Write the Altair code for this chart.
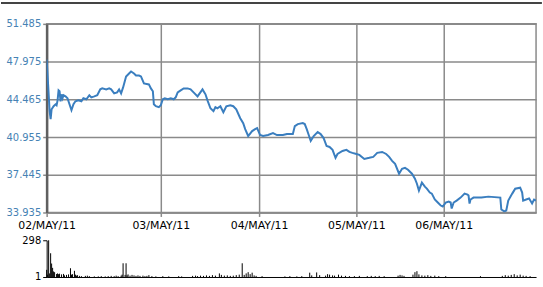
import altair as alt
import pandas as pd

# price series (session time index, price)
price_t = [0, 1, 3, 4, 5, 7, 9, 10, 11, 12, 13, 14, 15, 16, 17, 19, 21, 23, 25, 27, 29, 32, 35, 37, 40, 43, 45, 48, 51, 54, 56, 60, 63, 65, 68, 71, 73, 75, 77, 80, 83, 85, 88, 90, 93, 95, 98, 103, 105, 107, 108, 110, 113, 115, 117, 119, 122, 125, 128, 130, 132, 135, 138, 142, 145, 148, 152, 157, 160, 162, 165, 168, 170, 172, 175, 178, 181, 185, 188, 191, 195, 198, 200, 203, 207, 210, 212, 215, 218, 223, 228, 232, 238, 242, 248, 250, 253, 258, 260, 262, 264, 266, 269, 273, 276, 279, 282, 285, 288, 291, 293, 298, 302, 305, 308, 312, 315, 320, 325, 329, 333, 338, 342, 345, 348, 351, 355, 358, 361, 364, 368, 371, 373, 375, 378, 381, 383, 386, 388, 391, 394, 397, 399, 402, 405, 407, 408, 410, 413, 417, 421, 424, 425, 426, 427, 430, 438, 445, 457, 458, 461, 463, 465, 469, 472, 477, 479, 480, 483, 486, 489, 491, 493]
price_v = [48.16, 46.59, 43.36, 42.62, 43.54, 43.82, 44.00, 43.91, 44.37, 45.30, 45.21, 44.28, 44.93, 44.56, 44.84, 44.74, 44.56, 44.00, 43.45, 44.00, 44.28, 44.37, 44.28, 44.56, 44.465, 44.84, 44.65, 44.74, 44.84, 45.39, 45.48, 45.39, 45.48, 45.39, 45.02, 45.11, 45.39, 45.02, 45.57, 46.59, 46.87, 47.05, 46.87, 46.68, 46.68, 46.59, 45.94, 45.85, 45.48, 45.21, 44.00, 43.82, 43.73, 43.91, 44.465, 44.56, 44.465, 44.56, 44.465, 44.65, 45.11, 45.30, 45.48, 45.48, 45.39, 45.11, 44.74, 45.39, 44.93, 44.37, 43.63, 43.36, 43.73, 43.63, 43.82, 43.26, 43.82, 43.91, 43.82, 43.54, 42.71, 42.25, 41.69, 41.05, 41.51, 41.69, 41.79, 41.14, 41.05, 41.14, 41.32, 41.14, 41.14, 41.23, 41.23, 41.97, 42.16, 42.25, 42.16, 41.69, 41.14, 40.59, 41.05, 41.42, 41.23, 40.86, 40.12, 40.03, 39.76, 39.02, 39.38, 39.66, 39.76, 39.57, 39.48, 39.38, 39.29, 38.92, 39.02, 39.11, 39.48, 39.57, 39.38, 39.11, 38.74, 38.46, 37.54, 38.00, 38.09, 37.91, 37.54, 37.08, 36.61, 35.97, 36.71, 36.34, 36.15, 35.79, 35.69, 35.14, 34.86, 34.58, 34.49, 34.86, 34.95, 34.86, 34.30, 34.86, 35.04, 35.32, 35.69, 35.60, 35.51, 34.77, 35.14, 35.32, 35.32, 35.41, 35.32, 34.21, 34.03, 34.12, 35.04, 35.69, 36.15, 36.24, 35.79, 35.04, 35.14, 35.23, 34.77, 35.14, 35.04]

# volume series
vol_t = [0, 1, 2, 3, 4, 5, 6, 7, 8, 10, 11, 12, 13, 15, 17, 18, 20, 22, 24, 25, 26, 28, 29, 30, 31, 33, 35, 39, 41, 43, 48, 52, 55, 59, 62, 65, 68, 70, 72, 75, 76, 77, 79, 80, 81, 82, 84, 86, 88, 90, 92, 94, 97, 99, 101, 103, 106, 110, 117, 123, 133, 136, 147, 150, 152, 155, 158, 161, 164, 167, 170, 174, 176, 179, 182, 185, 188, 191, 194, 197, 199, 201, 203, 205, 207, 209, 211, 217, 240, 245, 252, 257, 265, 267, 272, 275, 281, 283, 285, 288, 290, 294, 297, 301, 305, 310, 315, 323, 327, 331, 335, 340, 354, 356, 358, 360, 369, 371, 373, 375, 378, 381, 384, 387, 391, 395, 402, 437, 459, 462, 465, 468, 471, 474, 477, 480, 483, 487]
vol_v = [59, 20, 298, 30, 193, 110, 75, 46, 40, 25, 30, 24, 28, 22, 26, 14, 18, 22, 72, 20, 24, 51, 20, 12, 16, 10, 8, 10, 12, 8, 6, 6, 8, 6, 8, 10, 8, 12, 8, 12, 20, 112, 18, 112, 14, 22, 12, 18, 14, 10, 14, 10, 12, 8, 10, 16, 8, 6, 8, 6, 8, 6, 10, 12, 8, 12, 10, 14, 10, 16, 12, 30, 18, 12, 14, 10, 12, 16, 20, 112, 18, 30, 40, 24, 36, 14, 10, 8, 6, 8, 6, 8, 36, 14, 38, 16, 12, 24, 20, 14, 12, 20, 12, 10, 8, 8, 10, 8, 10, 8, 10, 8, 12, 18, 14, 10, 20, 40, 48, 22, 14, 12, 16, 10, 12, 8, 8, 8, 10, 16, 12, 18, 24, 14, 20, 12, 10, 8]

y_ticks = [33.935, 37.445, 40.955, 44.465, 47.975, 51.485]
x_tick_pos = [0, 115, 214, 312, 400]
x_tick_labels = ["02/MAY/11", "03/MAY/11", "04/MAY/11", "05/MAY/11", "06/MAY/11"]
vol_ticks = [1, 298]

price_df = pd.DataFrame({"t": price_t, "price": price_v})
vol_df = pd.DataFrame({"t": vol_t, "vol": vol_v})

label_expr = ""
for p, l in zip(x_tick_pos, x_tick_labels):
    label_expr += f"datum.value == {p} ? '{l}' : "
label_expr += "''"

FONT = "DejaVu Sans"
GRID = "#8a8a8a"

x_scale = alt.Scale(domain=[0, 493], nice=False, zero=False)

line = alt.Chart(price_df).mark_line(color="#3a7ebf", strokeWidth=2, clip=True).encode(
    x=alt.X("t:Q", scale=x_scale,
            axis=alt.Axis(values=x_tick_pos, labelExpr=label_expr, title=None,
                          grid=True, gridColor=GRID, gridWidth=1.5,
                          domainColor=GRID, domainWidth=1.5,
                          tickColor=GRID, tickSize=4, tickWidth=1.5,
                          labelColor="#000000", labelFont=FONT, labelFontSize=11,
                          labelPadding=3, labelFlush=False, labelOverlap=False)),
    y=alt.Y("price:Q", scale=alt.Scale(domain=[33.935, 51.485], nice=False, zero=False),
            axis=alt.Axis(values=y_ticks, format=".3f", title=None,
                          grid=True, gridColor=GRID, gridWidth=1.5,
                          domainColor="#606060", domainWidth=2.5,
                          tickColor=GRID, tickSize=4, tickWidth=1.5,
                          labelColor="#4682B4", labelFont=FONT, labelFontSize=10,
                          labelPadding=2, labelFlush=False, labelOverlap=False)),
)

topline = alt.Chart(price_df).mark_rule(color="#444444", strokeWidth=2, clip=False).encode(
    x=alt.value(-45), x2=alt.value(498), y=alt.value(-21)
)

top = alt.layer(line, topline).properties(
    width=493, height=190,
    view=alt.ViewBackground(stroke=GRID, strokeWidth=1.5),
)

bars = alt.Chart(vol_df).mark_rule(color="#000000", strokeWidth=1).encode(
    x=alt.X("t:Q", scale=x_scale,
            axis=alt.Axis(labels=False, ticks=False, grid=False, title=None,
                          domainColor="#000000", domainWidth=1)),
    y=alt.Y("vol:Q", scale=alt.Scale(domain=[1, 298], nice=False, zero=False),
            axis=alt.Axis(values=vol_ticks, title=None, grid=False,
                          domainColor="#000000", domainWidth=1,
                          tickColor="#000000", tickSize=4,
                          labelColor="#000000", labelFont=FONT, labelFontSize=10,
                          labelPadding=2, labelFlush=False, labelOverlap=False)),
    y2=alt.datum(1),
)

bottom = alt.layer(bars).properties(
    width=493, height=37,
    view=alt.ViewBackground(strokeWidth=0),
)

chart = alt.vconcat(top, bottom, spacing=4).properties(
    padding={"left": 0, "top": 0, "right": 0, "bottom": 0},
    background="white",
).configure_view(strokeWidth=0)

chart.save("out.html", embed_options={"renderer": "svg", "actions": False})
